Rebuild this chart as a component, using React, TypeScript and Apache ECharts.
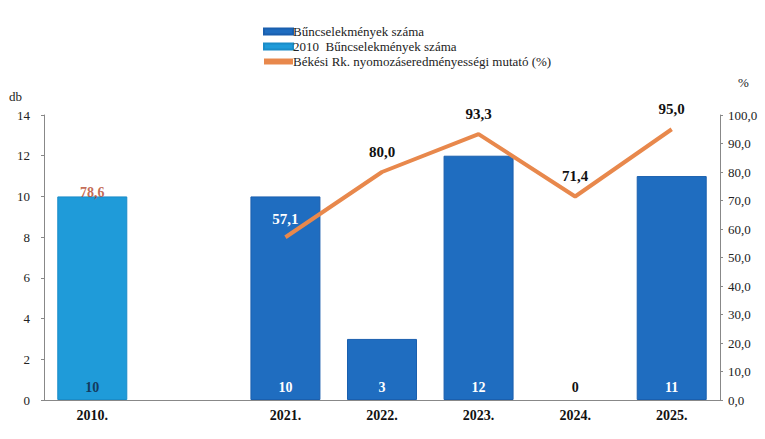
import React, { useEffect, useRef } from "react";
import * as echarts from "echarts";

const categories = ["2010.", "", "2021.", "2022.", "2023.", "2024.", "2025."];
const crimeCounts = [null, null, 10, 3, 12, 0, 11];
const crimeCounts2010 = [10, null, null, null, null, null, null];
const detectionRate = [null, null, 57.1, 80.0, 93.3, 71.4, 95.0];
const detectionRate2010 = [78.6];
const leftTicks = { min: 0, max: 14, interval: 2 };
const rightTicks = { min: 0, max: 100, interval: 10 };

const FONT = "serif";
const LINE_COLOR = "#E8884C";
const fmt = (v: number) => v.toFixed(1).replace(".", ",");

export default function App() {
  const ref = useRef<HTMLDivElement>(null);
  useEffect(() => {
    if (!ref.current) return;
    const chart = echarts.init(ref.current, null, { renderer: "svg" });
    chart.setOption({
      animation: false,
      textStyle: { fontFamily: FONT },
      legend: {
        orient: "vertical",
        left: 258,
        top: 20,
        itemGap: 2,
        itemWidth: 29,
        itemHeight: 6,
        textStyle: { fontFamily: FONT, fontSize: 13, color: "#222", padding: [0, 0, 0, -5] },
        data: [
          { name: "Bűncselekmények száma", icon: "rect" },
          { name: "2010  Bűncselekmények száma", icon: "rect" },
          {
            name: "Békési Rk. nyomozáseredményességi mutató (%)",
            icon: "rect",
            itemStyle: { color: LINE_COLOR, opacity: 1 },
          },
        ],
      },
      grid: { left: 44, right: 45, top: 115, bottom: 39 },
      xAxis: {
        type: "category",
        data: categories,
        axisLine: { lineStyle: { color: "#888" } },
        axisTick: { show: false },
        axisLabel: { fontFamily: FONT, fontWeight: "bold", fontSize: 14, color: "#111", margin: 8 },
      },
      yAxis: [
        {
          type: "value",
          ...leftTicks,
          name: "db",
          nameLocation: "end",
          nameGap: 12,
          nameTextStyle: { fontFamily: FONT, fontSize: 13, color: "#222", align: "right", padding: [0, 22, 0, 0] },
          axisLine: { show: true, lineStyle: { color: "#888" } },
          axisTick: { show: true, length: 3, lineStyle: { color: "#888" } },
          splitLine: { show: false },
          axisLabel: { fontFamily: FONT, fontSize: 13, color: "#222", margin: 14 },
        },
        {
          type: "value",
          ...rightTicks,
          name: "%",
          nameLocation: "end",
          nameGap: 26,
          nameTextStyle: { fontFamily: FONT, fontSize: 13, color: "#222", align: "left", padding: [0, 0, 0, 18] },
          axisLine: { show: true, lineStyle: { color: "#888" } },
          axisTick: { show: true, length: 3, lineStyle: { color: "#888" } },
          splitLine: { show: false },
          axisLabel: { fontFamily: FONT, fontSize: 13, color: "#222", margin: 8, formatter: (v: number) => fmt(v) },
        },
      ],
      series: [
        {
          name: "Bűncselekmények száma",
          type: "bar",
          data: crimeCounts.map((v) =>
            v === 0
              ? { value: v, itemStyle: { color: "transparent", borderWidth: 0 }, label: { color: "#111" } }
              : v
          ),
          barWidth: 70,
          barGap: "-100%",
          itemStyle: { color: "#1F6DC0", borderColor: "#1A5FAE", borderWidth: 1 },
          label: {
            show: true,
            position: "insideBottom",
            distance: 6,
            fontFamily: FONT,
            fontWeight: "bold",
            fontSize: 14,
            color: "#fff",
          },
        },
        {
          name: "2010  Bűncselekmények száma",
          type: "bar",
          data: crimeCounts2010,
          barWidth: 70,
          itemStyle: { color: "#1F9BD9", borderColor: "#1A8CC8", borderWidth: 1 },
          label: {
            show: true,
            position: "insideBottom",
            distance: 6,
            fontFamily: FONT,
            fontWeight: "bold",
            fontSize: 14,
            color: "#143A5E",
          },
        },
        {
          name: "Békési Rk. nyomozáseredményességi mutató (%)",
          type: "line",
          yAxisIndex: 1,
          data: detectionRate.map((v, i) =>
            i === 2 ? { value: v, label: { color: "#fff", distance: 10 } } : v
          ),
          symbol: "circle",
          symbolSize: 2,
          showSymbol: true,
          connectNulls: false,
          lineStyle: { color: LINE_COLOR, width: 4 },
          itemStyle: { color: "transparent", borderWidth: 0 },
          label: {
            show: true,
            position: "top",
            distance: 12,
            fontFamily: FONT,
            fontWeight: "bold",
            fontSize: 15,
            color: "#111",
            formatter: (p: any) => fmt(p.value),
          },
        },
        {
          name: "2010 label",
          type: "scatter",
          yAxisIndex: 0,
          symbolSize: 0,
          silent: true,
          data: [[0, crimeCounts2010[0] as number, detectionRate2010[0]]],
          label: {
            show: true,
            position: "top",
            distance: -3,
            fontFamily: FONT,
            fontWeight: "bold",
            fontSize: 14,
            color: "#B5462A",
            formatter: (p: any) => fmt(p.value[2]),
          },
        },
      ],
    });
    return () => chart.dispose();
  }, []);
  return <div ref={ref} style={{ width: 765, height: 439, position: "absolute", left: 0, top: 0 }} />;
}
